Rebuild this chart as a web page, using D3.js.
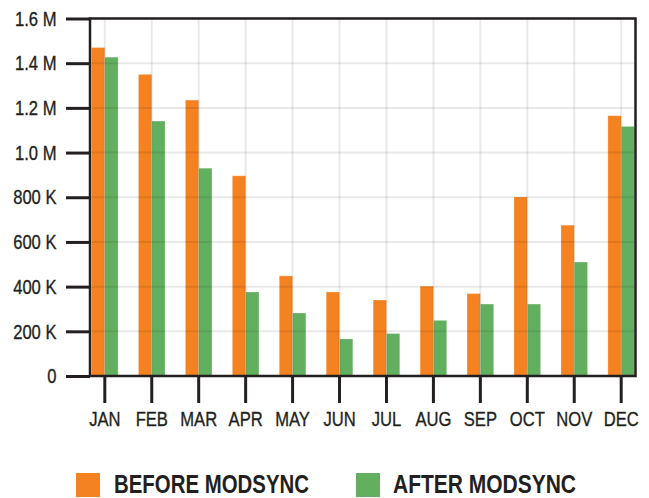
<!DOCTYPE html>
<html><head><meta charset="utf-8">
<script src="https://cdn.jsdelivr.net/npm/d3@7"></script>
<style>
html,body{margin:0;padding:0;background:#fff;}
svg{display:block;}
text{font-family:"Liberation Sans",Arial,sans-serif;fill:#231f20;}
</style></head>
<body>
<svg id="chart" width="649" height="498"></svg>
<script>
const months = ["JAN","FEB","MAR","APR","MAY","JUN","JUL","AUG","SEP","OCT","NOV","DEC"];
const beforeValues = [1470000,1350000,1235000,896000,448000,376000,340000,402000,369000,801000,675000,1165000];
const afterValues  = [1427000,1141000,930000,376000,282000,166000,190000,249000,322000,322000,510000,1117000];
const seriesNames = ["BEFORE MODSYNC","AFTER MODSYNC"];
const seriesColors = ["#f58220","#62af5f"];
const yTickValues = [0,200000,400000,600000,800000,1000000,1200000,1400000,1600000];
const yTickLabels = ["0","200 K","400 K","600 K","800 K","1.0 M","1.2 M","1.4 M","1.6 M"];

(function(){
const svg = d3.select("#chart");
const pLeft = 91.5, pRight = 634.5, pTop = 18.5, pBottom = 376;
const FONT = '"Liberation Sans",Arial,sans-serif';
const SX = 0.79;

const x = d3.scaleBand().domain(months).range([pLeft, pRight]).paddingInner(0.433).paddingOuter(0);
const xs = d3.scaleBand().domain([0,1]).range([0, x.bandwidth()]);
const y = d3.scaleLinear().domain([0, 1600000]).range([pBottom, pTop]);

const data = months.map((m,i)=>({m, vals:[beforeValues[i], afterValues[i]]}));

// bars
const g = svg.append("g");
g.selectAll("g.grp").data(data).join("g").attr("class","grp")
  .attr("transform", d=>`translate(${x(d.m)},0)`)
  .selectAll("rect").data(d=>d.vals.map((v,k)=>({v,k}))).join("rect")
  .attr("x", d=>xs(d.k)).attr("width", xs.bandwidth())
  .attr("y", d=>y(d.v)).attr("height", d=>pBottom - y(d.v))
  .attr("fill", d=>seriesColors[d.k])
  .attr("stroke", "rgba(255,255,255,0.25)").attr("stroke-width", 1);

// gridlines (on top, translucent)
const grid = svg.append("g").attr("stroke","rgba(0,0,0,0.085)").attr("stroke-width",2);
grid.selectAll("line.h").data(yTickValues.slice(1)).join("line").attr("class","h")
  .attr("x1", pLeft).attr("x2", pRight).attr("y1", d=>y(d)).attr("y2", d=>y(d));
grid.selectAll("line.v").data(months).join("line").attr("class","v")
  .attr("x1", d=>x(d)+x.bandwidth()/2).attr("x2", d=>x(d)+x.bandwidth()/2)
  .attr("y1", pTop).attr("y2", pBottom);

// frame
svg.append("rect").attr("x", 90).attr("y", pTop).attr("width", 635.5-90).attr("height", pBottom-pTop)
  .attr("fill","none").attr("stroke","#231f20").attr("stroke-width",2.5);

// y axis
const yAxis = d3.axisLeft(y).tickValues(yTickValues)
  .tickFormat((d,i)=>yTickLabels[i]).tickSize(24).tickPadding(9.5).tickSizeOuter(0);
const ya = svg.append("g").attr("transform","translate(90,0)").call(yAxis);
ya.select(".domain").remove();
ya.selectAll(".tick line").attr("stroke","#231f20").attr("stroke-width",3);
ya.selectAll(".tick text").attr("font-size",21).attr("fill","#231f20").attr("font-family",FONT)
  .attr("stroke","#231f20").attr("stroke-width",0.35)
  .each(function(){
    const t = d3.select(this); const tx = +t.attr("x");
    t.attr("x",0).attr("transform",`translate(${tx},0) scale(${SX},1)`);
  });

// x axis
const xAxis = d3.axisBottom(x).tickSize(27).tickPadding(8.5).tickSizeOuter(0);
const xa = svg.append("g").attr("transform",`translate(0,${pBottom})`).call(xAxis);
xa.select(".domain").remove();
xa.selectAll(".tick line").attr("stroke","#231f20").attr("stroke-width",3);
xa.selectAll(".tick text").attr("font-size",21).attr("fill","#231f20").attr("font-family",FONT)
  .attr("stroke","#231f20").attr("stroke-width",0.35)
  .attr("transform",`scale(${SX},1)`);

// legend
const legendX = [76, 356];
const legendTextX = [114, 393];
const legendTextW = [195, 183];
const lg = svg.append("g");
seriesNames.forEach((name,i)=>{
  lg.append("rect").attr("x", legendX[i]).attr("y", 473).attr("width", 24).attr("height", 24)
    .attr("fill", seriesColors[i]);
  lg.append("text").attr("x", legendTextX[i]).attr("y", 492.5)
    .attr("font-size", 25.5).attr("font-weight","bold").attr("font-family",FONT)
    .attr("textLength", legendTextW[i]).attr("lengthAdjust","spacingAndGlyphs")
    .text(name);
});
})();
</script>
</body></html>
